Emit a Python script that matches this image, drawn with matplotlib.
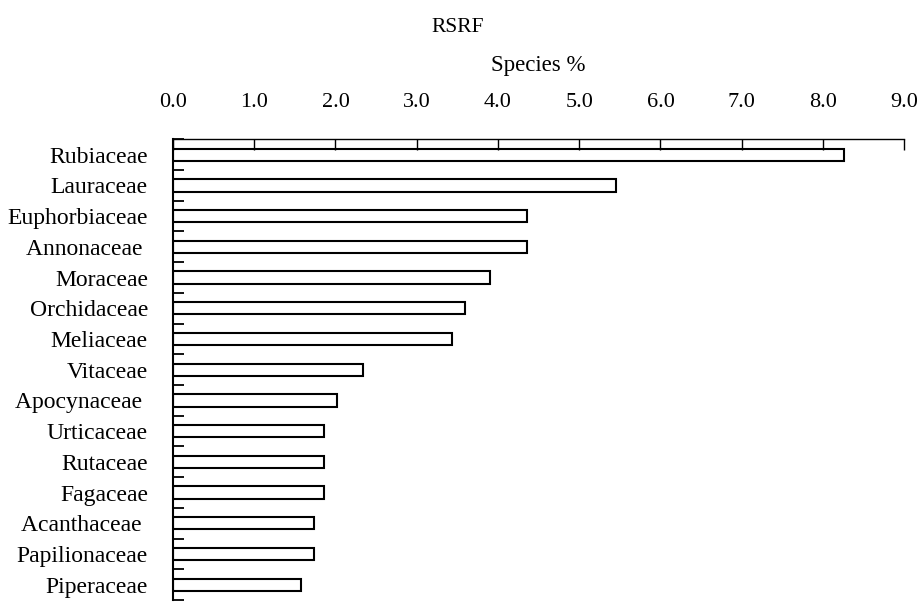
import matplotlib.pyplot as plt
import numpy as np

plt.rcParams['font.family'] = ['Liberation Serif', 'DejaVu Serif']

families = ["Rubiaceae", "Lauraceae", "Euphorbiaceae", "Annonaceae ", "Moraceae",
            "Orchidaceae", "Meliaceae", "Vitaceae", "Apocynaceae ", "Urticaceae",
            "Rutaceae", "Fagaceae", "Acanthaceae ", "Papilionaceae", "Piperaceae"]
species_pct = [8.26, 5.45, 4.36, 4.36, 3.90, 3.59, 3.43, 2.34, 2.02, 1.86,
               1.86, 1.86, 1.73, 1.73, 1.57]
xticks = np.arange(0, 10, 1.0)

fig = plt.figure(figsize=(9.24, 6.02), dpi=100)
ax = fig.add_axes([0.1872, 0.0033, 0.7914, 0.7653])

pos = np.arange(len(families))
ax.barh(pos, species_pct, height=0.4, color="white", edgecolor="black", linewidth=1.5)

ax.set_ylim(len(families) - 0.5, -0.5)
ax.set_xlim(0, 9)

# x axis on top, ticks pointing down into the plot
ax.xaxis.tick_top()
ax.set_xticks(xticks)
ax.set_xticklabels([f"{v:.1f}" for v in xticks], fontsize=16)
ax.tick_params(axis="x", direction="in", length=8, width=1, pad=20)

# category boundaries get the tick marks, names sit between them
ax.set_yticks(np.arange(len(families) + 1) - 0.5)
ax.set_yticklabels([])
ax.set_yticks(pos, minor=True)
ax.set_yticklabels(families, minor=True, fontsize=17)
ax.tick_params(axis="y", which="major", direction="in", length=8, width=1.3)
ax.tick_params(axis="y", which="minor", length=0, pad=18)

ax.spines["right"].set_visible(False)
ax.spines["bottom"].set_visible(False)
ax.spines["top"].set_linewidth(1.0)
ax.spines["left"].set_linewidth(1.5)

fig.text(0.5828, 1 - 71 / 602, "Species %", ha="center", va="baseline", fontsize=16.5)
fig.text(458 / 924, 1 - 31.5 / 602, "RSRF", ha="center", va="baseline", fontsize=15.5)

fig.savefig("out.png", dpi=100, facecolor="white")
